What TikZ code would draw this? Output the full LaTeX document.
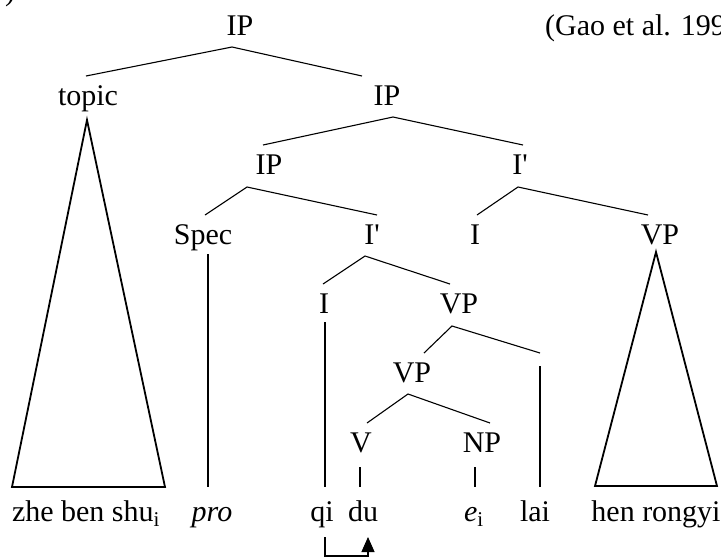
\documentclass[tikz,border=0pt]{standalone}
\usepackage{fontspec}
\setmainfont{Liberation Serif}
\usetikzlibrary{arrows.meta}
\newcommand{\ibar}{I\textquotesingle}
\begin{document}
\begin{tikzpicture}[x=1pt,y=-1pt,
  lbl/.style={anchor=base,inner sep=0pt,font=\fontsize{30}{36}\selectfont},
  branch/.style={line width=1.1pt},
  tri/.style={line width=1.8pt,line join=miter},
  mover/.style={line width=1.1pt,-{Triangle[width=13pt,length=15pt]}}]
\useasboundingbox (0,0) rectangle (721,558);
\clip (0,0) rectangle (721,558);

% example number and source
\node[lbl] (exnum) at (10,0) {)};
\node[lbl,anchor=base west] (source) at (545,35) {(Gao et al. 1992)};

% category labels
\node[lbl] (ip1)    at (240,35)  {IP};
\node[lbl] (topic)  at (88,105)  {topic};
\node[lbl] (ip2)    at (387,105) {IP};
\node[lbl] (ip3)    at (269,174) {IP};
\node[lbl] (ibarR)  at (520,174) {\ibar};
\node[lbl] (spec)   at (203,244) {Spec};
\node[lbl] (ibarL)  at (372,244) {\ibar};
\node[lbl] (iR)     at (475,244) {I};
\node[lbl] (vpR)    at (660,244) {VP};
\node[lbl] (iL)     at (324,313) {I};
\node[lbl] (vp1)    at (459,313) {VP};
\node[lbl] (vp2)    at (412,382) {VP};
\node[lbl] (v)      at (361,452) {V};
\node[lbl] (np)     at (482,452) {NP};

% terminal words
\node[lbl] (w1) at (86,521)  {zhe ben shu\textsubscript{i}};
\node[lbl] (w2) at (212,521) {\textit{pro}};
\node[lbl] (w3) at (322,521) {qi};
\node[lbl] (w4) at (363,521) {du};
\node[lbl] (w5) at (474,521) {\textit{e}\textsubscript{i}};
\node[lbl] (w6) at (535,521) {lai};
\node[lbl] (w7) at (656,521) {hen rongyi};

% branch end points
\coordinate (ip1b)   at (232,47);
\coordinate (topict) at (86,76);
\coordinate (ip2t)   at (362,76);
\coordinate (ip2b)   at (393,117);
\coordinate (ip3t)   at (263,145);
\coordinate (ibarRt) at (523,145);
\coordinate (ip3b)   at (247,187);
\coordinate (spect)  at (205,215);
\coordinate (ibarLt) at (377,215);
\coordinate (ibarRb) at (518,187);
\coordinate (iRt)    at (477,215);
\coordinate (vpRt)   at (648,215);
\coordinate (ibarLb) at (365,256);
\coordinate (iLt)    at (323,284);
\coordinate (vp1t)   at (450,284);
\coordinate (vp1b)   at (452,326);
\coordinate (vp2t)   at (424,353);
\coordinate (lait)   at (540,353);
\coordinate (vp2b)   at (408,394);
\coordinate (vt)     at (367,423);
\coordinate (npt)    at (490,423);

% vertical attachments
\coordinate (specb) at (208,254);
\coordinate (specw) at (208,487);
\coordinate (iLb)   at (325,322);
\coordinate (iLw)   at (325,487);
\coordinate (laib)  at (540,366);
\coordinate (laiw)  at (540,487);
\coordinate (vb)    at (360,467);
\coordinate (vw)    at (360,487);
\coordinate (npb)   at (475,467);
\coordinate (npw)   at (475,487);

% triangles
\coordinate (topicb) at (87,120);
\coordinate (topicl) at (12,487);
\coordinate (topicr) at (165,487);
\coordinate (vpRb)   at (656,252);
\coordinate (vpRl)   at (595,486);
\coordinate (vpRr)   at (717,486);

% movement arrow
\coordinate (mvA) at (325,537);
\coordinate (mvB) at (325,556);
\coordinate (mvC) at (368,556);
\coordinate (mvD) at (368,537);

\draw[branch] (topict) -- (ip1b) -- (ip2t);
\draw[branch] (ip3t) -- (ip2b) -- (ibarRt);
\draw[branch] (spect) -- (ip3b) -- (ibarLt);
\draw[branch] (iRt) -- (ibarRb) -- (vpRt);
\draw[branch] (iLt) -- (ibarLb) -- (vp1t);
\draw[branch] (vp2t) -- (vp1b) -- (lait);
\draw[branch] (vt) -- (vp2b) -- (npt);
\draw[branch] (specb) -- (specw);
\draw[branch] (iLb) -- (iLw);
\draw[branch] (laib) -- (laiw);
\draw[branch] (vb) -- (vw);
\draw[branch] (npb) -- (npw);

\draw[tri] (topicb) -- (topicl) -- (topicr) -- cycle;
\draw[tri] (vpRb) -- (vpRl) -- (vpRr) -- cycle;

\draw[mover] (mvA) -- (mvB) -- (mvC) -- (mvD);
\end{tikzpicture}
\end{document}
